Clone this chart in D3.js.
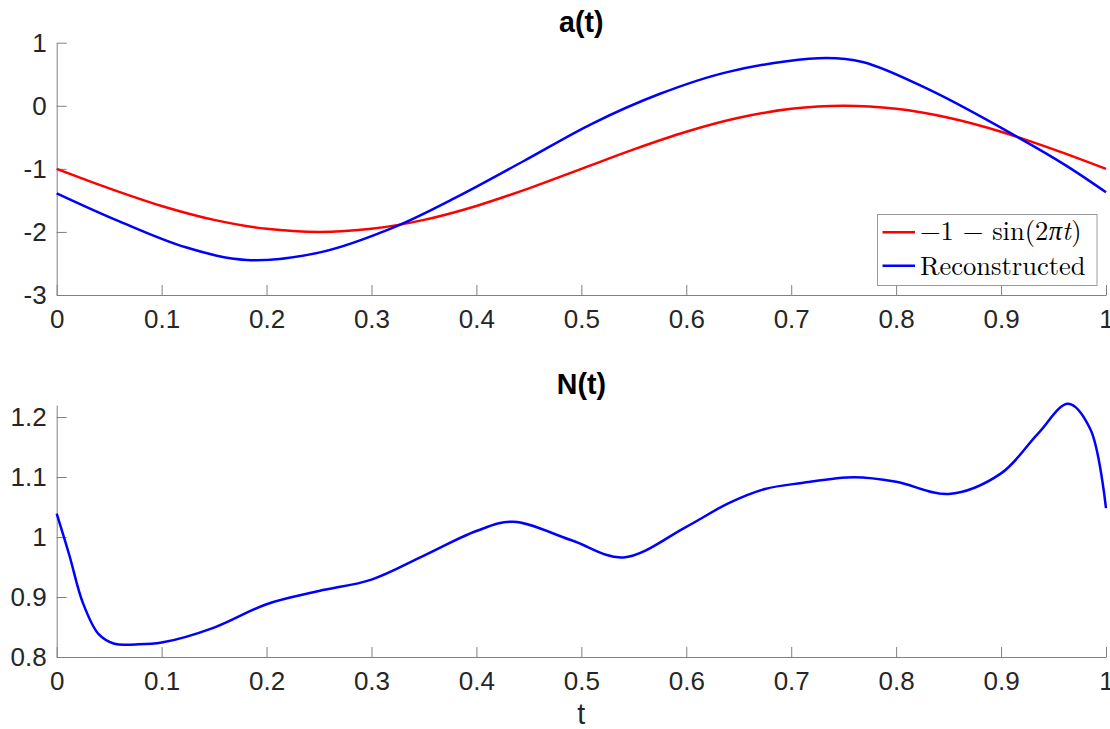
<!DOCTYPE html>
<html>
<head>
<meta charset="utf-8">
<script src="https://cdn.jsdelivr.net/npm/d3@7"></script>
<style>
  body { margin: 0; background: #fff; }
  svg { display: block; }
</style>
</head>
<body>
<div id="chart"></div>
<script>
// sample times and values
const tExact = [0, 0.05, 0.1, 0.15, 0.2, 0.25, 0.3, 0.35, 0.4, 0.45, 0.5, 0.55, 0.6, 0.65, 0.7, 0.75, 0.8, 0.85, 0.9, 0.95, 1];
const exactA = [-1, -1.309, -1.588, -1.809, -1.951, -2, -1.951, -1.809, -1.588, -1.309, -1, -0.691, -0.412, -0.191, -0.049, 0, -0.049, -0.191, -0.412, -0.691, -1];

const tRecon = [0, 0.058, 0.123, 0.181, 0.252, 0.323, 0.381, 0.446, 0.51, 0.575, 0.639, 0.726, 0.768, 0.833, 0.917, 0.962, 1];
const reconA = [-1.387, -1.82, -2.244, -2.445, -2.32, -1.916, -1.45, -0.868, -0.286, 0.19, 0.534, 0.755, 0.695, 0.243, -0.508, -0.948, -1.37];

const tN = [0, 0.012, 0.025, 0.04, 0.055, 0.075, 0.1, 0.15, 0.2, 0.25, 0.3, 0.35, 0.4, 0.435, 0.49, 0.54, 0.6, 0.64, 0.675, 0.71, 0.76, 0.8, 0.85, 0.9, 0.935, 0.964, 0.985, 1];
const valN = [1.039, 0.97, 0.89, 0.838, 0.822, 0.821, 0.824, 0.849, 0.888, 0.910, 0.929, 0.969, 1.01, 1.0255, 0.995, 0.966, 1.017, 1.056, 1.08, 1.09, 1.0995, 1.092, 1.0717, 1.106, 1.172, 1.222, 1.18, 1.048];

const xTicks = [0, 0.1, 0.2, 0.3, 0.4, 0.5, 0.6, 0.7, 0.8, 0.9, 1];
const xTickLabels = ["0", "0.1", "0.2", "0.3", "0.4", "0.5", "0.6", "0.7", "0.8", "0.9", "1"];
const yTicksA = [-3, -2, -1, 0, 1];
const yTickLabelsA = ["-3", "-2", "-1", "0", "1"];
const yTicksN = [0.8, 0.9, 1, 1.1, 1.2];
const yTickLabelsN = ["0.8", "0.9", "1", "1.1", "1.2"];

const width = 1110, height = 729;
const left = 56.7, right = 1106;
const sans = "Liberation Sans, Helvetica, Arial, sans-serif";

const svg = d3.select("#chart").append("svg")
    .attr("width", width)
    .attr("height", height);

const x = d3.scaleLinear().domain([0, 1]).range([left, right]);

const yA = d3.scaleLinear().domain([-3, 1]).range([295, 42.7]);
const yN = d3.scaleLinear().domain([0.8, 1.22]).range([657, 405]);

function drawAxes(y, yTicks, yLabels, bottom) {
  const g = svg.append("g");
  const xa = g.append("g")
      .attr("transform", `translate(0,${bottom})`)
      .call(d3.axisBottom(x).tickValues(xTicks)
        .tickFormat((d, i) => xTickLabels[i])
        .tickSizeInner(-10).tickSizeOuter(0).tickPadding(15));
  const ya = g.append("g")
      .attr("transform", `translate(${left},0)`)
      .call(d3.axisLeft(y).tickValues(yTicks)
        .tickFormat((d, i) => yLabels[i])
        .tickSizeInner(-10).tickSizeOuter(0).tickPadding(10));
  [xa, ya].forEach(a => {
    a.selectAll(".domain, .tick line").attr("stroke", "#808080").attr("stroke-width", 1);
    a.selectAll(".tick text")
      .attr("fill", "#262626")
      .attr("font-family", sans)
      .attr("font-size", 26);
  });
}

drawAxes(yA, yTicksA, yTickLabelsA, 295);
drawAxes(yN, yTicksN, yTickLabelsN, 657);

const lineA = d3.line().x(d => x(d[0])).y(d => yA(d[1])).curve(d3.curveCatmullRom.alpha(0.5));
const lineN = d3.line().x(d => x(d[0])).y(d => yN(d[1])).curve(d3.curveCatmullRom.alpha(0.5));

svg.append("path")
    .datum(tExact.map((t, i) => [t, exactA[i]]))
    .attr("fill", "none").attr("stroke", "#ff0000").attr("stroke-width", 2.5)
    .attr("d", lineA);

svg.append("path")
    .datum(tRecon.map((t, i) => [t, reconA[i]]))
    .attr("fill", "none").attr("stroke", "#0000ff").attr("stroke-width", 2.5)
    .attr("d", lineA);

svg.append("path")
    .datum(tN.map((t, i) => [t, valN[i]]))
    .attr("fill", "none").attr("stroke", "#0000ff").attr("stroke-width", 2.5)
    .attr("d", lineN);

// titles
const mid = (left + right) / 2;
svg.append("text")
    .attr("x", mid).attr("y", 32)
    .attr("text-anchor", "middle")
    .attr("font-family", sans)
    .attr("font-weight", "bold").attr("font-size", 28.6)
    .attr("fill", "#000")
    .text("a(t)");

svg.append("text")
    .attr("x", mid).attr("y", 393.5)
    .attr("text-anchor", "middle")
    .attr("font-family", sans)
    .attr("font-weight", "bold").attr("font-size", 28.6)
    .attr("fill", "#000")
    .text("N(t)");

svg.append("text")
    .attr("x", mid).attr("y", 724)
    .attr("text-anchor", "middle")
    .attr("font-family", sans)
    .attr("font-size", 28.6)
    .attr("fill", "#262626")
    .text("t");

// legend
const legend = svg.append("g");
legend.append("rect")
    .attr("x", 877.5).attr("y", 214.5)
    .attr("width", 219.5).attr("height", 71)
    .attr("fill", "#fff").attr("stroke", "#9a9a9a").attr("stroke-width", 1);

const legendItems = [
  { color: "#ff0000", y: 232.3 },
  { color: "#0000ff", y: 265.7 }
];
legend.selectAll("line.key")
  .data(legendItems)
  .join("line")
    .attr("class", "key")
    .attr("x1", 882.5).attr("x2", 915)
    .attr("y1", d => d.y).attr("y2", d => d.y)
    .attr("stroke", d => d.color).attr("stroke-width", 2.5);

const serif = "Latin Modern Roman, CMU Serif, Liberation Serif, Times New Roman, serif";
// first entry in pieces so the math letters can be italic
const pieces = [
  { s: "\u22121 \u2212 sin(2", italic: false },
  { s: "\u03c0t", italic: true },
  { s: ")", italic: false }
];
let px = 920;
pieces.forEach(p => {
  const tx = legend.append("text")
      .attr("x", px).attr("y", 240)
      .attr("font-family", serif).attr("font-size", 26.5)
      .attr("font-style", p.italic ? "italic" : "normal")
      .attr("fill", "#000")
      .text(p.s);
  px += tx.node().getComputedTextLength() + 0.5;
});

legend.append("text")
    .attr("x", 920).attr("y", 275)
    .attr("font-family", serif).attr("font-size", 26.5)
    .attr("fill", "#000")
    .text("Reconstructed");
</script>
</body>
</html>
